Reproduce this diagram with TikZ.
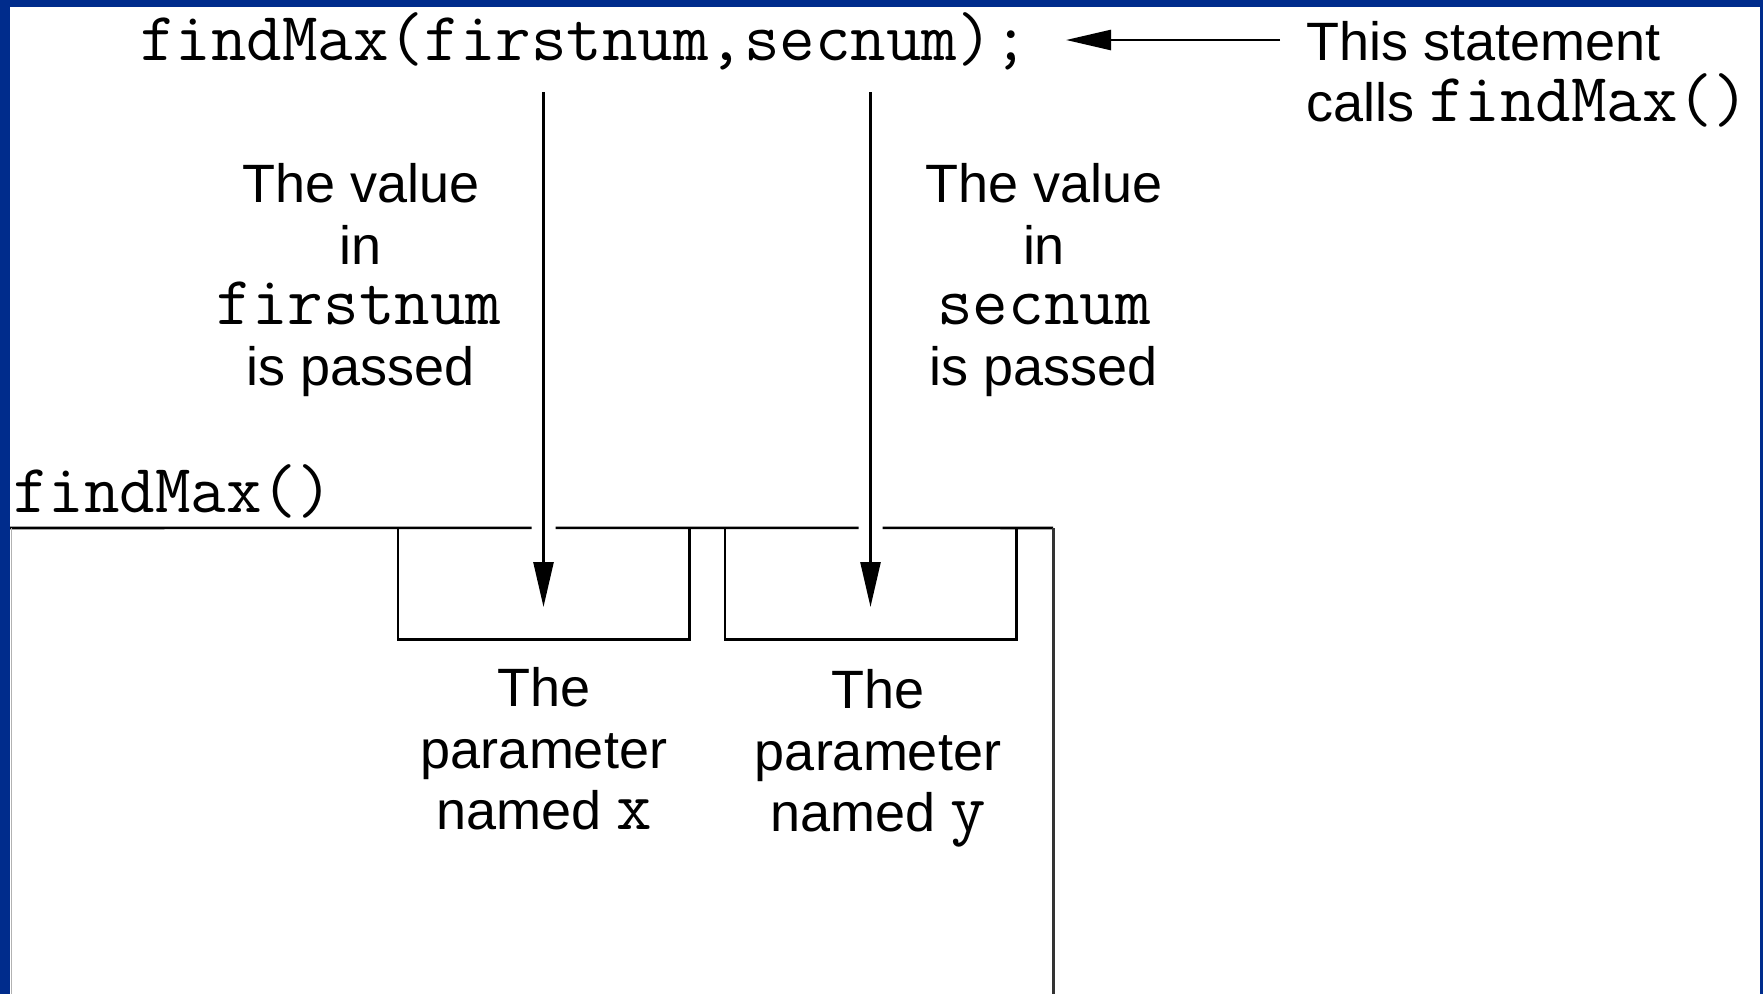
\documentclass[tikz,border=0pt]{standalone}
\usepackage{fontspec}
\setmainfont{Liberation Sans}
\usetikzlibrary{arrows.meta}
\definecolor{frameblue}{RGB}{0,44,140}
% code words inside running text
\newcommand\codeword[1]{{\fontsize{69}{61}\selectfont\ttfamily #1}}
\begin{document}
\begin{tikzpicture}[x=1pt, y=-1pt,
  sans/.style={font=\fontsize{54}{61}\selectfont, inner sep=0pt, anchor=base},
  code/.style={font=\fontsize{69}{61}\selectfont\ttfamily, inner sep=0pt, anchor=base},
  ln/.style={line width=2.6pt, black},
  arr/.style={ln, -{Triangle[length=45pt, width=20pt]}},
  slot/.style={minimum width=291pt, minimum height=111pt, inner sep=0pt}]

\useasboundingbox (0,0) rectangle (1763,994);
\fill[white] (0,0) rectangle (1763,994);

% the calling statement and its note
\node[code, anchor=base west] (call) at (140,60) {findMax(firstnum,secnum);};
\node[sans, anchor=base west] (note1) at (1306,60) {This statement};
\node[sans, anchor=base west] (note2) at (1306,121) {calls \codeword{findMax()}};
\coordinate (callend) at (1066,40);
\coordinate (notestart) at (1280,40);
\draw[arr] (notestart) -- (callend);

% value labels
\node[sans] (v1a) at (361,202) {The value};
\node[sans] (v1b) at (361,264) {in};
\node[code] (v1c) at (359,324) {firstnum};
\node[sans] (v1d) at (361,385) {is passed};

\node[sans] (v2a) at (1044,202) {The value};
\node[sans] (v2b) at (1044,264) {in};
\node[code] (v2c) at (1044,324) {secnum};
\node[sans] (v2d) at (1044,385) {is passed};

% the function frame with its two parameter slots
\node[code, anchor=base west] (fname) at (13,512) {findMax()};
\node[slot] (xbox) at (543.5,583.5) {};
\node[slot] (ybox) at (870.5,583.5) {};
\coordinate (ftl) at (0,528);
\coordinate (ftr) at (1053,528);
\coordinate (fbr) at (1053,994);

\draw[ln] (ftl) -- ([xshift=-12pt]xbox.north)
          ([xshift=12pt]xbox.north) -- ([xshift=-12pt]ybox.north)
          ([xshift=12pt]ybox.north) -- (ftr);
\draw[line width=3pt, black!80] (ftr) -- (fbr);
\draw[line width=1.2pt, black!30] (11.5,528) -- (11.5,994);

\draw[ln] (xbox.north west) -- (xbox.south west) -- (xbox.south east) -- (xbox.north east);
\draw[ln] (ybox.north west) -- (ybox.south west) -- (ybox.south east) -- (ybox.north east);

% values passed into the slots
\coordinate (xsrc) at (543.5,92);
\coordinate (ysrc) at (870.5,92);
\draw[arr] (xsrc) -- ([yshift=-23.5pt]xbox.center);
\draw[arr] (ysrc) -- ([yshift=-23.5pt]ybox.center);

% parameter labels
\node[sans] (p1a) at (544,706) {The};
\node[sans] (p1b) at (544,768) {parameter};
\node[sans] (p1c) at (544,829) {named \codeword{x}};

\node[sans] (p2a) at (878,708) {The};
\node[sans] (p2b) at (878,770) {parameter};
\node[sans] (p2c) at (878,831) {named \codeword{y}};

% slide border
\fill[frameblue] (0,0) rectangle (10,994);
\fill[frameblue] (0,0) rectangle (1763,7);
\fill[frameblue] (1760,0) rectangle (1763,994);
\end{tikzpicture}
\end{document}
